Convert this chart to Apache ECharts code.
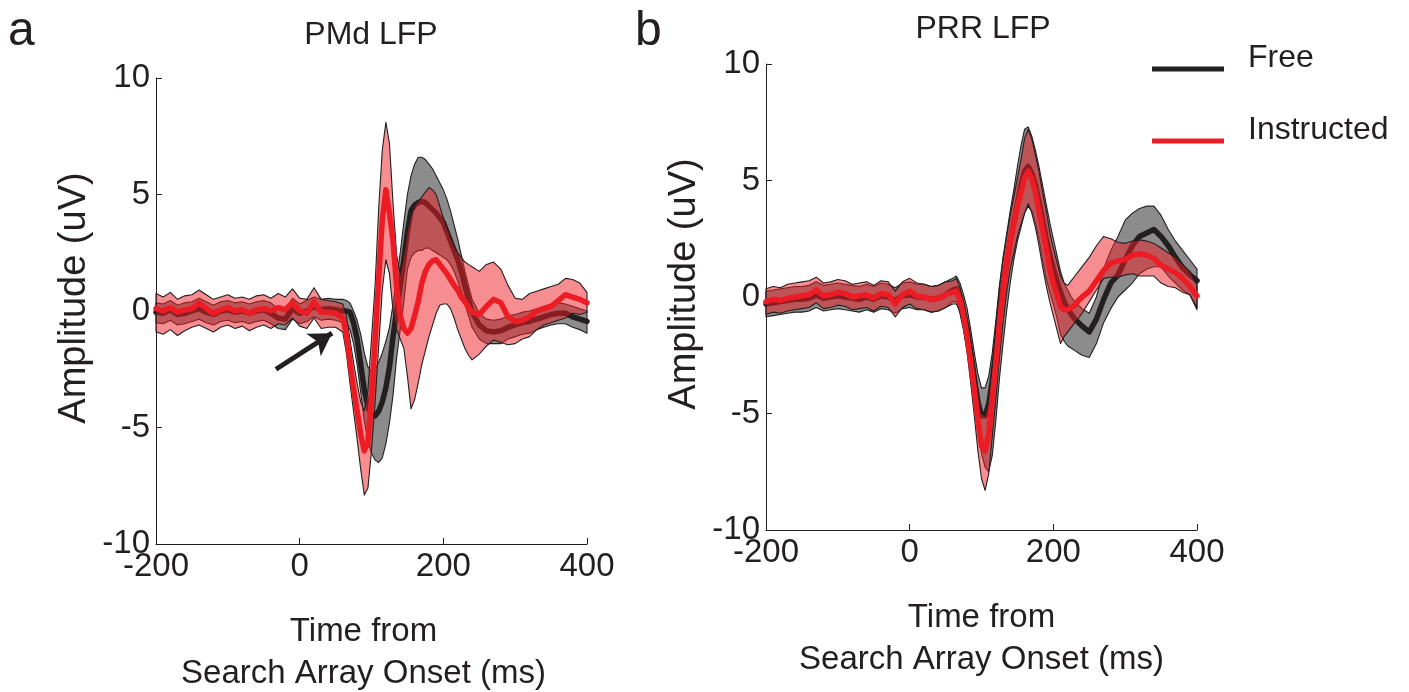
<!DOCTYPE html>
<html><head><meta charset="utf-8">
<script src="https://cdn.jsdelivr.net/npm/echarts@6/dist/echarts.min.js"></script>
<style>html,body{margin:0;padding:0;background:#fff}#c{width:1409px;height:692px}</style>
</head><body><div id="c"></div>
<script>
// time axis (ms from search array onset)
const timeMs = [-200,-190,-180,-170,-160,-150,-140,-130,-120,-110,-100,-90,-80,-70,-60,-50,-40,-30,-20,-10,0,10,20,30,40,50,
  60,65,70,75,80,85,90,95,100,105,110,115,120,125,130,135,140,145,150,155,160,165,170,175,180,185,190,195,200,205,210,215,220,225,230,235,240,
  250,260,270,280,290,300,310,320,330,340,350,360,370,380,390,400];
const xTicks = [-200, 0, 200, 400];
const yTicks = [-10, -5, 0, 5, 10];

// Panel a: PMd LFP
const freeA_mean = [-0.05,-0.1,0.05,-0.15,-0.1,0.0,0.1,-0.05,-0.15,0.0,0.05,-0.05,0.0,-0.1,0.0,0.05,-0.1,-0.3,-0.35,0.1,-0.1,0.0,0.2,0.05,0.1,0.05,
  0.0,0.0,-0.05,-0.5,-1.2,-2.3,-3.4,-4.1,-4.45,-4.5,-4.3,-3.9,-3.3,-2.4,-1.1,0.0,1.1,2.2,3.4,4.3,4.55,4.65,4.7,4.65,4.5,4.35,4.2,4.0,3.8,3.4,3.0,2.6,2.2,1.7,1.1,0.5,-0.05,
  -0.6,-0.85,-0.9,-0.85,-0.7,-0.6,-0.5,-0.45,-0.35,-0.25,-0.15,-0.1,-0.1,-0.25,-0.35,-0.45];
const freeA_hi = [0.35,0.3,0.45,0.25,0.35,0.4,0.55,0.4,0.25,0.4,0.45,0.35,0.4,0.3,0.4,0.45,0.35,0.1,0.05,0.55,0.3,0.45,0.6,0.5,0.55,0.5,
  0.5,0.45,0.35,0.0,-0.4,-1.0,-1.8,-2.4,-2.6,-2.5,-2.2,-1.8,-1.3,-0.7,0.3,1.4,2.5,3.8,5.0,5.8,6.3,6.6,6.6,6.5,6.3,6.1,5.8,5.5,5.2,4.8,4.3,3.7,3.1,2.4,1.7,1.1,0.5,
  -0.1,-0.35,-0.4,-0.35,-0.2,-0.15,-0.05,0.0,0.1,0.2,0.3,0.35,0.3,0.2,0.1,0.0];
const freeA_lo = [-0.5,-0.55,-0.4,-0.6,-0.55,-0.45,-0.35,-0.5,-0.6,-0.45,-0.4,-0.5,-0.45,-0.55,-0.45,-0.4,-0.55,-0.75,-0.8,-0.35,-0.55,-0.45,-0.25,-0.4,-0.35,-0.4,
  -0.5,-0.5,-0.8,-1.4,-2.3,-3.5,-4.7,-5.6,-6.1,-6.4,-6.5,-6.3,-5.7,-4.8,-3.6,-2.0,-0.8,0.4,1.8,2.3,2.5,2.6,2.6,2.7,2.7,2.6,2.5,2.4,2.3,2.2,2.0,1.7,1.3,0.8,0.3,-0.2,-0.7,
  -1.2,-1.4,-1.4,-1.4,-1.2,-1.1,-1.0,-0.95,-0.8,-0.7,-0.6,-0.55,-0.55,-0.7,-0.8,-0.95];
const instrA_mean = [0.1,0.0,0.15,-0.05,0.05,0.1,0.35,0.1,-0.1,0.05,0.15,0.0,0.05,-0.1,0.05,0.1,0.0,0.15,0.05,0.35,0.0,-0.1,0.4,-0.05,-0.05,-0.1,
  -0.3,-1.0,-2.2,-3.3,-4.3,-5.3,-6.0,-5.6,-3.8,-1.3,1.4,3.9,5.2,4.2,3.0,1.0,-0.2,-0.75,-0.95,-0.75,-0.2,0.4,1.2,1.7,2.0,2.15,2.2,2.0,1.8,1.6,1.35,1.1,0.9,0.6,0.4,0.15,-0.05,
  -0.15,0.2,0.5,0.35,-0.25,-0.45,-0.4,-0.25,0.0,0.1,0.2,0.45,0.7,0.6,0.5,0.35];
const instrA_hi = [0.75,0.6,0.8,0.5,0.65,0.7,0.9,0.7,0.5,0.6,0.7,0.55,0.6,0.5,0.65,0.7,0.55,0.75,0.6,0.95,0.55,0.5,1.0,0.5,0.45,0.4,
  0.3,-0.2,-1.2,-2.2,-3.1,-3.9,-4.3,-3.4,-1.2,1.1,4.4,6.9,8.1,7.2,4.6,2.4,1.6,2.4,3.4,4.1,4.5,4.7,4.9,5.1,5.3,5.2,5.0,4.5,4.0,3.6,3.2,2.8,2.5,2.3,2.1,2.0,1.9,
  1.7,2.0,2.1,1.8,1.1,0.55,0.5,0.75,0.85,0.95,1.05,1.15,1.4,1.35,1.2,0.8];
const instrA_lo = [-0.9,-1.0,-0.8,-1.05,-0.85,-0.7,-0.6,-0.75,-0.9,-0.7,-0.6,-0.75,-0.65,-0.85,-0.7,-0.6,-0.75,-0.55,-0.6,-0.3,-0.65,-0.75,-0.3,-0.75,-0.7,-0.7,
  -0.9,-1.8,-3.1,-4.3,-5.5,-6.8,-7.9,-7.6,-6.0,-3.9,-1.5,0.9,2.2,1.6,0.0,-0.8,-1.2,-1.6,-2.8,-4.2,-3.8,-3.1,-2.3,-1.7,-1.1,-0.6,-0.1,0.25,0.3,0.3,0.1,-0.3,-0.8,-1.2,-1.6,-1.9,-2.1,
  -1.85,-1.5,-1.25,-1.35,-1.45,-1.4,-1.2,-1.1,-0.8,-0.6,-0.5,-0.4,-0.3,-0.1,-0.15,-0.05];

// Panel b: PRR LFP
const freeB_mean = [-0.3,-0.25,-0.2,-0.15,-0.1,-0.1,-0.05,0.1,-0.05,0.0,0.05,0.0,-0.05,-0.1,0.0,-0.1,0.05,0.0,-0.15,0.05,0.1,0.0,0.0,-0.1,-0.05,0.1,
  0.3,0.35,0.0,-0.6,-1.4,-2.4,-3.5,-4.5,-5.1,-5.1,-4.6,-3.6,-2.3,-0.8,0.4,1.4,2.4,3.2,4.0,4.8,5.4,5.6,5.3,4.8,4.1,3.3,2.5,1.8,1.2,0.7,0.2,-0.2,-0.5,-0.75,-0.95,-1.1,-1.25,
  -1.5,-0.95,-0.1,0.6,0.95,1.6,2.2,2.6,2.75,2.9,2.6,2.2,1.7,1.25,0.95,0.7];
const freeB_hi = [0.25,0.3,0.35,0.4,0.45,0.45,0.5,0.65,0.5,0.55,0.6,0.55,0.5,0.45,0.55,0.45,0.6,0.55,0.4,0.6,0.65,0.55,0.55,0.45,0.5,0.65,
  0.8,0.9,0.6,0.1,-0.5,-1.4,-2.4,-3.3,-3.9,-3.9,-3.4,-2.4,-1.0,0.5,1.7,2.7,3.7,4.6,5.6,6.5,7.2,7.3,6.9,6.3,5.6,4.8,4.0,3.2,2.5,1.8,1.1,0.6,0.3,0.0,-0.2,-0.35,-0.5,
  -0.7,0.0,1.2,2.0,2.6,3.3,3.6,3.8,3.9,3.9,3.5,2.9,2.4,2.0,1.6,1.2];
const freeB_lo = [-0.85,-0.8,-0.75,-0.7,-0.65,-0.65,-0.6,-0.45,-0.6,-0.55,-0.5,-0.55,-0.6,-0.65,-0.55,-0.65,-0.5,-0.55,-0.7,-0.5,-0.45,-0.55,-0.55,-0.65,-0.6,-0.45,
  -0.2,-0.2,-0.7,-1.4,-2.3,-3.4,-4.6,-5.8,-6.7,-7.3,-7.5,-6.8,-5.3,-3.5,-2.0,-0.6,0.6,1.6,2.4,3.0,3.6,3.9,3.7,3.2,2.5,1.6,0.8,0.2,-0.3,-0.9,-1.6,-1.9,-2.1,-2.2,-2.3,-2.4,-2.5,
  -2.6,-2.0,-1.1,-0.5,0.0,0.3,0.6,1.0,1.2,1.3,1.3,0.9,0.6,0.3,0.1,-0.55];
const instrB_mean = [-0.2,-0.1,-0.15,-0.05,0.0,0.05,0.1,0.3,0.05,0.1,0.2,0.15,0.0,0.05,0.1,-0.05,0.15,0.1,-0.3,0.1,0.25,0.05,0.0,-0.1,-0.05,0.1,
  0.2,0.25,-0.1,-0.8,-1.7,-2.8,-4.0,-5.3,-6.4,-6.6,-5.9,-4.3,-2.9,-1.1,0.2,1.5,2.4,3.15,3.9,4.5,5.1,5.4,5.1,4.5,3.7,2.9,2.1,1.2,0.6,0.1,-0.4,-0.55,-0.55,-0.45,-0.35,-0.15,0.0,
  0.25,0.7,1.15,1.45,1.55,1.6,1.8,1.85,1.8,1.65,1.35,1.2,1.05,0.8,0.45,0.05];
const instrB_hi = [0.35,0.45,0.4,0.55,0.6,0.65,0.7,0.85,0.6,0.65,0.75,0.7,0.55,0.6,0.65,0.5,0.7,0.65,0.25,0.65,0.8,0.6,0.55,0.45,0.5,0.65,
  0.7,0.8,0.4,-0.2,-1.0,-1.9,-2.9,-4.0,-5.0,-5.1,-4.5,-3.0,-1.3,0.4,1.6,2.6,3.5,4.3,5.1,5.9,6.8,7.2,6.8,6.1,5.4,4.5,3.7,2.8,2.1,1.5,0.9,0.6,0.5,0.7,0.9,1.1,1.3,
  1.7,2.2,2.6,2.5,2.35,2.3,2.4,2.45,2.4,2.3,2.1,1.9,1.7,1.4,1.1,0.5];
const instrB_lo = [-0.75,-0.65,-0.7,-0.6,-0.55,-0.5,-0.45,-0.25,-0.5,-0.45,-0.35,-0.4,-0.55,-0.5,-0.45,-0.6,-0.4,-0.45,-0.85,-0.45,-0.3,-0.5,-0.55,-0.65,-0.6,-0.45,
  -0.3,-0.3,-0.6,-1.4,-2.4,-3.7,-5.1,-6.6,-7.8,-8.3,-7.6,-6.0,-4.4,-2.6,-1.1,0.2,1.2,1.9,2.6,3.1,3.6,4.0,3.6,3.0,2.2,1.3,0.5,-0.2,-0.8,-1.4,-2.0,-1.7,-1.5,-1.3,-1.1,-0.9,-0.7,
  -0.2,0.3,0.8,0.85,0.85,0.95,1.0,0.9,0.9,0.9,0.6,0.45,0.4,0.2,0.1,-0.45];

// arrow annotation in panel a (data units: ms, uV)
const arrowFrom = [-33, -2.5];
const arrowTo = [45, -0.95];

const FONT = '"Liberation Sans", Arial, Helvetica, sans-serif';
const INK = '#231f20';
const RED = '#ed1c24';
const GRAY_FILL = 'rgb(140,140,140)';
const RED_FILL = 'rgba(237,28,36,0.5)';

const pairs = (xs, ys) => xs.map((x, i) => [x, ys[i]]);

function band(name, gi, lo, hi, fill, z) {
  return {
    type: 'custom', name: name, xAxisIndex: gi, yAxisIndex: gi, z: z, silent: true,
    data: [[timeMs[0], lo[0]]],
    encode: { x: 0, y: 1 },
    renderItem: function (params, api) {
      const pts = [];
      for (let i = 0; i < timeMs.length; i++) pts.push(api.coord([timeMs[i], hi[i]]));
      for (let i = timeMs.length - 1; i >= 0; i--) pts.push(api.coord([timeMs[i], lo[i]]));
      return { type: 'polygon', shape: { points: pts }, style: { fill: fill, stroke: INK, lineWidth: 1.1, lineJoin: 'round' } };
    }
  };
}
function meanLine(name, gi, ys, color, z, extra) {
  return Object.assign({
    type: 'line', name: name, xAxisIndex: gi, yAxisIndex: gi, z: z, silent: true,
    data: pairs(timeMs, ys), symbol: 'none', showSymbol: false,
    lineStyle: { color: color, width: 5.5, join: 'round', cap: 'round' },
    itemStyle: { color: color }
  }, extra || {});
}

function xAxisCfg(gi, shiftX) {
  return {
    gridIndex: gi, type: 'value', min: -200, max: 400, interval: 200,
    axisLine: { show: true, onZero: false, lineStyle: { color: INK, width: 1 } },
    axisTick: { show: true, inside: true, length: 6, lineStyle: { color: INK, width: 1 } },
    axisLabel: { color: INK, fontSize: 33, fontFamily: FONT, margin: 6, formatter: v => String(v) },
    splitLine: { show: false },
    name: 'Time from\nSearch Array Onset (ms)', nameLocation: 'middle', nameGap: 67, nameMoveOverlap: false,
    nameTextStyle: { color: INK, fontSize: 33, fontFamily: FONT, lineHeight: 42, padding: [0, shiftX > 0 ? 0 : -shiftX * 2, 0, shiftX > 0 ? shiftX * 2 : 0] }
  };
}
function yAxisCfg(gi) {
  return {
    gridIndex: gi, type: 'value', min: -10, max: 10, interval: 5,
    axisLine: { show: true, onZero: false, lineStyle: { color: INK, width: 1 } },
    axisTick: { show: true, inside: true, length: 6, lineStyle: { color: INK, width: 1 } },
    axisLabel: { color: INK, fontSize: 33, fontFamily: FONT, margin: 6 },
    splitLine: { show: false },
    name: 'Amplitude (uV)', nameLocation: 'middle', nameGap: 62, nameRotate: 90, nameMoveOverlap: false,
    nameTextStyle: { color: INK, fontSize: 38, fontFamily: FONT, padding: [0, 0, 0, 26] }
  };
}

const chart = echarts.init(document.getElementById('c'), null, { renderer: 'canvas' });
const titleStyle = { color: INK, fontFamily: FONT, fontWeight: 'normal', fontSize: 32 };
const option = {
  animation: false,
  backgroundColor: '#ffffff',
  title: [
    { text: 'a', left: 8, top: 8, padding: 0, textStyle: Object.assign({}, titleStyle, { fontSize: 48 }) },
    { text: 'b', left: 635, top: 8, padding: 0, textStyle: Object.assign({}, titleStyle, { fontSize: 48 }) },
    { text: 'PMd LFP', left: 371, top: 19, padding: 0, textAlign: 'center', textStyle: titleStyle },
    { text: 'PRR LFP', left: 983, top: 13, padding: 0, textAlign: 'center', textStyle: titleStyle }
  ],
  legend: {
    data: ['Free', 'Instructed'], orient: 'vertical', left: 1152, top: 42, padding: 0,
    itemWidth: 72, itemHeight: 27, itemGap: 40, selectedMode: false,
    icon: 'path://M0,0 L72,0 L72,0.01 Z M0,22 L72,22 L72,27 L0,27 Z',
    textStyle: { color: INK, fontSize: 32, fontFamily: FONT, padding: [0, 0, 0, 19] }
  },
  grid: [
    { left: 156, top: 78, width: 431, height: 466, outerBoundsMode: 'none', containLabel: false },
    { left: 766, top: 64, width: 431, height: 466, outerBoundsMode: 'none', containLabel: false }
  ],
  xAxis: [xAxisCfg(0, -8), xAxisCfg(1, 0)],
  yAxis: [yAxisCfg(0), yAxisCfg(1)],
  series: [
    band('Free SEM a', 0, freeA_lo, freeA_hi, GRAY_FILL, 1),
    meanLine('Free', 0, freeA_mean, INK, 2, {
      markLine: {
        silent: true, symbol: ['none', 'arrow'], symbolSize: [20, 22],
        lineStyle: { color: INK, width: 5, type: 'solid' }, label: { show: false },
        data: [[{ coord: arrowFrom }, { coord: arrowTo }]]
      }
    }),
    band('Instructed SEM a', 0, instrA_lo, instrA_hi, RED_FILL, 3),
    meanLine('Instructed', 0, instrA_mean, RED, 4),
    band('Free SEM b', 1, freeB_lo, freeB_hi, GRAY_FILL, 1),
    meanLine('Free', 1, freeB_mean, INK, 2),
    band('Instructed SEM b', 1, instrB_lo, instrB_hi, RED_FILL, 3),
    meanLine('Instructed', 1, instrB_mean, RED, 4)
  ]
};
chart.setOption(option);
</script>
</body></html>
